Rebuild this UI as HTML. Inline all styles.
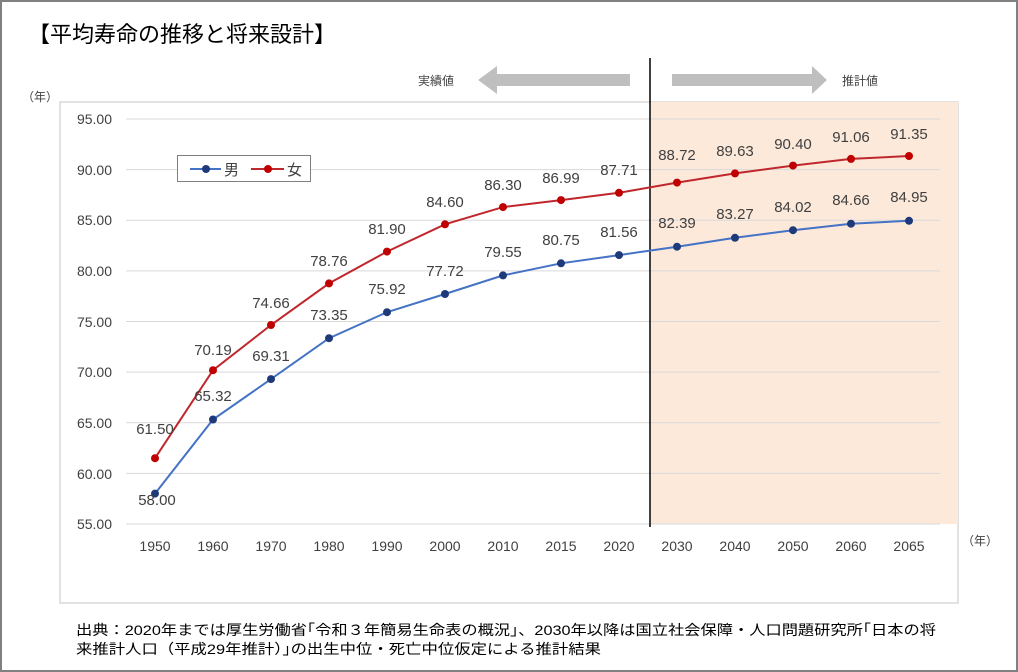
<!DOCTYPE html>
<html><head><meta charset="utf-8"><style>
body{margin:0;width:1018px;height:672px;overflow:hidden;background:#fff}
svg{display:block}
text{font-family:"Liberation Sans","Noto Sans CJK JP",sans-serif}
</style></head><body>
<svg width="1018" height="672" viewBox="0 0 1018 672">
<rect x="1" y="1" width="1016" height="670" fill="#fff" stroke="#808080" stroke-width="2"/>
<text x="28" y="42" font-size="22" fill="#000">【平均寿命の推移と将来設計】</text>
<rect x="60" y="102" width="898" height="501" fill="#fff" stroke="#d9d9d9" stroke-width="1.5"/>
<rect x="651" y="102" width="307" height="422" fill="#fce9da"/>
<g stroke="#d9d9d9" stroke-width="1">
<line x1="126" y1="119" x2="940" y2="119"/><line x1="126" y1="169.6" x2="940" y2="169.6"/>
<line x1="126" y1="220.3" x2="940" y2="220.3"/><line x1="126" y1="270.9" x2="940" y2="270.9"/>
<line x1="126" y1="321.5" x2="940" y2="321.5"/><line x1="126" y1="372.1" x2="940" y2="372.1"/>
<line x1="126" y1="422.8" x2="940" y2="422.8"/><line x1="126" y1="473.4" x2="940" y2="473.4"/>
<line x1="126" y1="524" x2="940" y2="524"/>
</g>
<g font-size="14" fill="#404040" text-anchor="end">
<text x="112" y="124">95.00</text><text x="112" y="175">90.00</text><text x="112" y="225">85.00</text>
<text x="112" y="276">80.00</text><text x="112" y="327">75.00</text><text x="112" y="377">70.00</text>
<text x="112" y="428">65.00</text><text x="112" y="479">60.00</text><text x="112" y="529">55.00</text>
</g>
<g font-size="14" fill="#404040" text-anchor="middle">
<text x="155" y="551">1950</text><text x="213" y="551">1960</text><text x="271" y="551">1970</text>
<text x="329" y="551">1980</text><text x="387" y="551">1990</text><text x="445" y="551">2000</text>
<text x="503" y="551">2010</text><text x="561" y="551">2015</text><text x="619" y="551">2020</text>
<text x="677" y="551">2030</text><text x="735" y="551">2040</text><text x="793" y="551">2050</text>
<text x="851" y="551">2060</text><text x="909" y="551">2065</text>
</g>
<text x="22" y="101" font-size="12" fill="#404040">（年）</text>
<text x="962" y="545" font-size="12" fill="#404040">（年）</text>
<line x1="650" y1="58" x2="650" y2="527" stroke="#000" stroke-width="1.5"/>
<polygon points="630,74 497,74 497,66 478,80 497,94 497,86 630,86" fill="#bfbfbf"/>
<polygon points="672,74 812,74 812,66 827,80 812,94 812,86 672,86" fill="#bfbfbf"/>
<text x="418" y="85" font-size="12" fill="#404040">実績値</text>
<text x="842" y="85" font-size="12" fill="#404040">推計値</text>
<polyline fill="none" stroke="#4472c4" stroke-width="2" points="155,493.6 213,419.5 271,379.1 329,338.2 387,312.2 445,294 503,275.4 561,263.3 619,255.1 677,246.7 735,237.8 793,230.2 851,223.7 909,220.8"/>
<polyline fill="none" stroke="#c0272d" stroke-width="2" points="155,458.2 213,370.2 271,325 329,283.4 387,251.6 445,224.3 503,207.1 561,200.1 619,192.8 677,182.6 735,173.4 793,165.6 851,158.9 909,156"/>
<g fill="#1f3a7a">
<circle cx="155" cy="493.6" r="4"/><circle cx="213" cy="419.5" r="4"/><circle cx="271" cy="379.1" r="4"/><circle cx="329" cy="338.2" r="4"/><circle cx="387" cy="312.2" r="4"/><circle cx="445" cy="294" r="4"/><circle cx="503" cy="275.4" r="4"/><circle cx="561" cy="263.3" r="4"/><circle cx="619" cy="255.1" r="4"/><circle cx="677" cy="246.7" r="4"/><circle cx="735" cy="237.8" r="4"/><circle cx="793" cy="230.2" r="4"/><circle cx="851" cy="223.7" r="4"/><circle cx="909" cy="220.8" r="4"/>
</g>
<g fill="#c00000">
<circle cx="155" cy="458.2" r="4"/><circle cx="213" cy="370.2" r="4"/><circle cx="271" cy="325" r="4"/><circle cx="329" cy="283.4" r="4"/><circle cx="387" cy="251.6" r="4"/><circle cx="445" cy="224.3" r="4"/><circle cx="503" cy="207.1" r="4"/><circle cx="561" cy="200.1" r="4"/><circle cx="619" cy="192.8" r="4"/><circle cx="677" cy="182.6" r="4"/><circle cx="735" cy="173.4" r="4"/><circle cx="793" cy="165.6" r="4"/><circle cx="851" cy="158.9" r="4"/><circle cx="909" cy="156" r="4"/>
</g>
<g font-size="15" fill="#404040" text-anchor="middle">
<text x="157" y="505">58.00</text><text x="213" y="401">65.32</text><text x="271" y="361">69.31</text>
<text x="329" y="320">73.35</text><text x="387" y="294">75.92</text><text x="445" y="276">77.72</text>
<text x="503" y="257">79.55</text><text x="561" y="245">80.75</text><text x="619" y="237">81.56</text>
<text x="677" y="228">82.39</text><text x="735" y="219">83.27</text><text x="793" y="212">84.02</text>
<text x="851" y="205">84.66</text><text x="909" y="202">84.95</text>
<text x="155" y="434">61.50</text><text x="213" y="355">70.19</text><text x="271" y="308">74.66</text>
<text x="329" y="266">78.76</text><text x="387" y="234">81.90</text><text x="445" y="207">84.60</text>
<text x="503" y="190">86.30</text><text x="561" y="183">86.99</text><text x="619" y="175">87.71</text>
<text x="677" y="160">88.72</text><text x="735" y="156">89.63</text><text x="793" y="149">90.40</text>
<text x="851" y="142">91.06</text><text x="909" y="139">91.35</text>
</g>
<rect x="177.5" y="155.5" width="133" height="26" fill="#fff" stroke="#808080" stroke-width="1"/>
<line x1="190" y1="169" x2="221" y2="169" stroke="#4472c4" stroke-width="2"/>
<circle cx="206" cy="169" r="4" fill="#1f3a7a"/>
<text x="224" y="175" font-size="15" fill="#404040">男</text>
<line x1="251" y1="169" x2="284" y2="169" stroke="#c0272d" stroke-width="2"/>
<circle cx="268" cy="169" r="4" fill="#c00000"/>
<text x="287" y="175" font-size="15" fill="#404040">女</text>
<text x="76" y="635" font-size="14" fill="#000" textLength="860" lengthAdjust="spacingAndGlyphs">出典：2020年までは厚生労働省｢令和３年簡易生命表の概況｣、2030年以降は国立社会保障・人口問題研究所｢日本の将</text>
<text x="76" y="654" font-size="14" fill="#000" textLength="525" lengthAdjust="spacingAndGlyphs">来推計人口（平成29年推計）｣の出生中位・死亡中位仮定による推計結果</text>
</svg>
</body></html>
